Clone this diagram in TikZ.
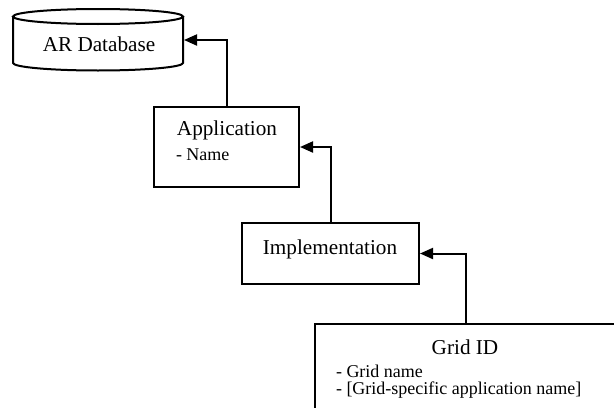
\documentclass[tikz,border=0pt]{standalone}
\usepackage{fontspec}
\setmainfont{Liberation Serif}
\usetikzlibrary{arrows.meta, positioning}

\begin{document}
\begin{tikzpicture}[x=0.5pt,y=-0.5pt,line width=1pt,
                arr/.style={-{Triangle[length=6.5pt,width=5.5pt]}},
                box/.style={draw,rectangle,inner sep=0pt},
                db node/.style={rectangle,minimum width=85pt,minimum height=30.5pt,inner sep=0pt},
                title/.style={font=\fontsize{10.6}{12.7}\selectfont,inner sep=0pt},
                item/.style={font=\fontsize{9}{10.8}\selectfont,inner sep=0pt,anchor=west}]

        \clip (0,0) rectangle (614,407);

        \node[db node] (db) at (98,40) {};
        \draw (98,16.5) ellipse [x radius=85, y radius=7.5];
        \draw (13,16.5) -- (13,63) arc [start angle=180, end angle=0, x radius=85, y radius=7.5] -- (183,16.5);
        \node[title] (dbname) at (99,44) {AR Database};

        \node[box,minimum width=72.5pt,minimum height=40pt] (app) at (226.5,147) {};
        \node[title] (appname) at (227,130) {Application};
        \node[item] (appitem) at (175,155) {- Name};

        \node[box,minimum width=88.5pt,minimum height=30.5pt] (impl) at (330.5,253.5) {};
        \node[title] (implname) at (330,249) {Implementation};

        \node[box,minimum width=151pt,minimum height=55pt,anchor=north west] (grid) at (314,323) {};
        \node[title] (gridname) at (465,347) {Grid ID};
        \node[item] (griditem1) at (335,371) {- Grid name};
        \node[item] (griditem2) at (335,390) {- [Grid-specific application name]};

        \draw[arr] (app.north) |- (db.east);
        \draw[arr] (impl.north) |- (app.east);
        \draw[arr] (grid.north) |- (impl.east);
\end{tikzpicture}
\end{document}
